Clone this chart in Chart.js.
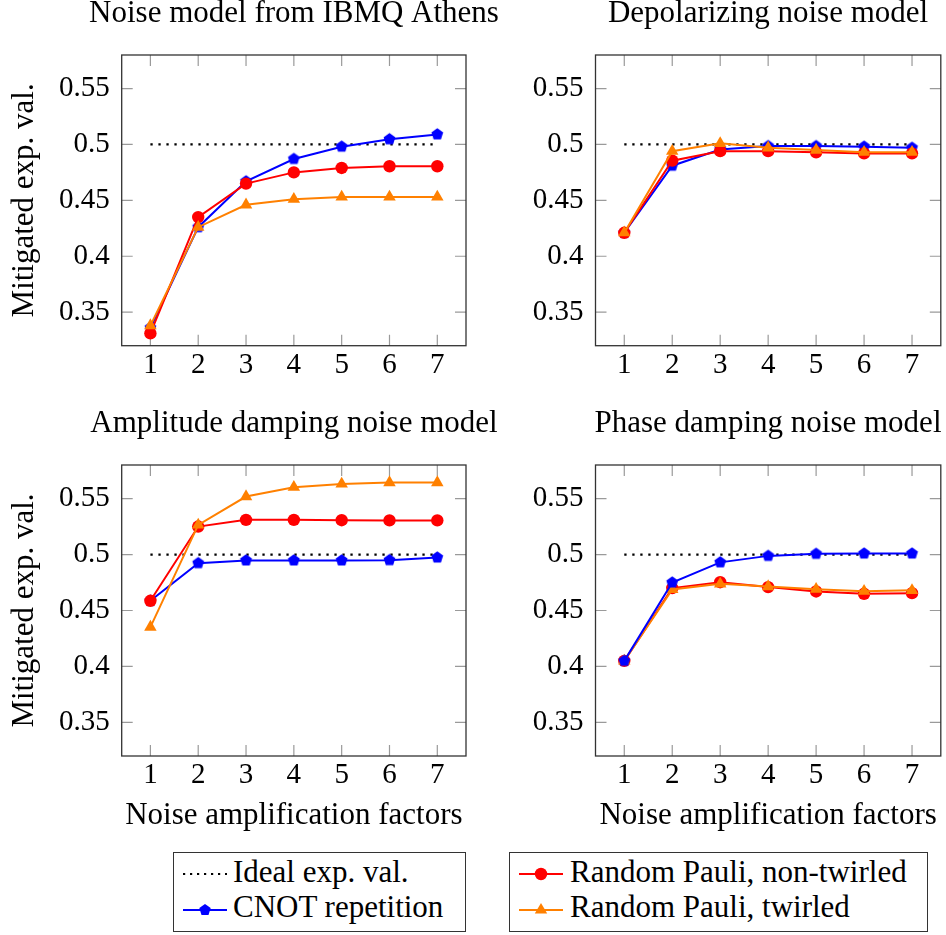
<!DOCTYPE html>
<html>
<head>
<meta charset="utf-8">
<script src="https://cdn.jsdelivr.net/npm/chart.js@4.4.1/dist/chart.umd.min.js"></script>
<style>
  html, body { margin: 0; padding: 0; background: #fff; }
  #page { position: relative; width: 946px; height: 935px; overflow: hidden; background: #fff; }
  #page canvas { position: absolute; }
  .legend-box { position: absolute; box-sizing: border-box; border: 1.3px solid #333; background: #fff; }
  .legend-text { position: absolute; font-family: "Liberation Serif", "Times New Roman", serif; font-size: 31px; line-height: 36px; color: #000; white-space: nowrap; }
  .legend-icon { position: absolute; }
</style>
</head>
<body>
<div id="page">
  <canvas id="athensChart" width="588" height="400" style="left:0;top:0"></canvas>
  <canvas id="depolChart" width="576" height="400" style="left:480px;top:0"></canvas>
  <canvas id="ampChart" width="588" height="430" style="left:0;top:410px"></canvas>
  <canvas id="phaseChart" width="576" height="430" style="left:480px;top:410px"></canvas>

  <div class="legend-box" style="left:173px;top:852px;width:293px;height:80px">
    <svg class="legend-icon" style="left:8px;top:13px" width="46" height="16">
      <line x1="1" y1="8" x2="45" y2="8" stroke="#000" stroke-width="2.2" stroke-dasharray="2.2 4.8"/>
    </svg>
    <span class="legend-text" style="left:59px;top:1px">Ideal exp. val.</span>
    <svg class="legend-icon" style="left:8px;top:49px" width="46" height="16">
      <line x1="1" y1="8" x2="45" y2="8" stroke="#0000ff" stroke-width="2"/>
      <polygon points="23,2 28.7,6.1 26.5,12.9 19.5,12.9 17.3,6.1" fill="#0000ff"/>
    </svg>
    <span class="legend-text" style="left:59px;top:36px">CNOT repetition</span>
  </div>

  <div class="legend-box" style="left:509px;top:852px;width:419px;height:80px">
    <svg class="legend-icon" style="left:8px;top:13px" width="46" height="16">
      <line x1="1" y1="8" x2="45" y2="8" stroke="#ff0000" stroke-width="2"/>
      <circle cx="23" cy="8" r="6.2" fill="#ff0000"/>
    </svg>
    <span class="legend-text" style="left:60px;top:1px">Random Pauli, non-twirled</span>
    <svg class="legend-icon" style="left:8px;top:49px" width="46" height="16">
      <line x1="1" y1="8" x2="45" y2="8" stroke="#ff8000" stroke-width="2"/>
      <polygon points="23,1 29.2,11.6 16.8,11.6" fill="#ff8000"/>
    </svg>
    <span class="legend-text" style="left:60px;top:36px">Random Pauli, twirled</span>
  </div>
</div>

<script>
const SERIF = '"Liberation Serif", "Times New Roman", serif';
const TICK_LEN = 11;

const factors = [1, 2, 3, 4, 5, 6, 7];
const yTicks = [0.35, 0.4, 0.45, 0.5, 0.55];
const idealX = [1, 7];
const idealY = [0.5, 0.5];

const athensCnot = [0.336, 0.426, 0.467, 0.487, 0.498, 0.5046, 0.509];
const athensPauli = [0.331, 0.435, 0.465, 0.475, 0.479, 0.4805, 0.4805];
const athensTwirled = [0.338, 0.426, 0.446, 0.451, 0.453, 0.453, 0.453];

const depolCnot = [0.421, 0.481, 0.4955, 0.4985, 0.4985, 0.498, 0.497];
const depolPauli = [0.421, 0.4855, 0.494, 0.494, 0.493, 0.492, 0.492];
const depolTwirled = [0.421, 0.494, 0.501, 0.497, 0.495, 0.493, 0.493];

const ampCnot = [0.4587, 0.4923, 0.4947, 0.4947, 0.4947, 0.495, 0.4973];
const ampPauli = [0.4587, 0.525, 0.531, 0.531, 0.5307, 0.5305, 0.5305];
const ampTwirled = [0.4352, 0.5265, 0.5518, 0.5602, 0.5631, 0.5643, 0.5643];

const phaseCnot = [0.405, 0.475, 0.493, 0.4988, 0.5006, 0.5009, 0.5009];
const phasePauli = [0.405, 0.47, 0.4753, 0.4709, 0.467, 0.4649, 0.4655];
const phaseTwirled = [0.405, 0.4688, 0.4738, 0.4714, 0.469, 0.4673, 0.468];

const BLUE = '#0000ff';
const RED = '#ff0000';
const ORANGE = '#ff8000';

function makePentagon(radius, color) {
  const size = Math.ceil(radius * 2) + 2;
  const c = document.createElement('canvas');
  c.width = size;
  c.height = size;
  const ctx = c.getContext('2d');
  ctx.fillStyle = color;
  ctx.beginPath();
  for (let k = 0; k < 5; k++) {
    const a = -Math.PI / 2 + k * 2 * Math.PI / 5;
    const px = size / 2 + radius * Math.cos(a);
    const py = size / 2 + radius * Math.sin(a);
    if (k === 0) ctx.moveTo(px, py); else ctx.lineTo(px, py);
  }
  ctx.closePath();
  ctx.fill();
  return c;
}

const pentagon = makePentagon(6.2, BLUE);

// box round the plot and the short inward ticks on all four sides
const framePlugin = {
  id: 'frame',
  beforeDatasetsDraw(chart) {
    const { ctx, chartArea: a, scales: { x, y } } = chart;
    ctx.save();
    ctx.strokeStyle = '#9a9a9a';
    ctx.lineWidth = 1.2;
    ctx.beginPath();
    factors.forEach((v) => {
      const px = x.getPixelForValue(v);
      ctx.moveTo(px, a.bottom);
      ctx.lineTo(px, a.bottom - TICK_LEN);
      ctx.moveTo(px, a.top);
      ctx.lineTo(px, a.top + TICK_LEN);
    });
    yTicks.forEach((v) => {
      const py = y.getPixelForValue(v);
      ctx.moveTo(a.left, py);
      ctx.lineTo(a.left + TICK_LEN, py);
      ctx.moveTo(a.right, py);
      ctx.lineTo(a.right - TICK_LEN, py);
    });
    ctx.stroke();
    ctx.strokeStyle = '#333';
    ctx.lineWidth = 1.3;
    ctx.strokeRect(a.left, a.top, a.right - a.left, a.bottom - a.top);
    ctx.restore();
  },
};

function toPoints(xs, ys) {
  return xs.map((v, i) => ({ x: v, y: ys[i] }));
}

function seriesDataset(label, values, color, pointStyle, radius, order) {
  return {
    label,
    data: toPoints(factors, values),
    borderColor: color,
    backgroundColor: color,
    borderWidth: 2,
    pointStyle,
    pointRadius: radius,
    pointBackgroundColor: color,
    pointBorderColor: color,
    pointBorderWidth: 0,
    tension: 0,
    order,
  };
}

function createChart(canvas, title, cnot, pauli, twirled, layout) {
  const cnotOrder = layout.cnotOnTop ? 0 : 3;
  return new Chart(canvas, {
    type: 'line',
    data: {
      datasets: [
        {
          label: 'Ideal exp. val.',
          data: toPoints(idealX, idealY),
          borderColor: '#000',
          borderWidth: 2.3,
          borderDash: [2.3, 5.7],
          pointRadius: 0,
          order: 10,
        },
        seriesDataset('CNOT repetition', cnot, BLUE, pentagon, 6.2, cnotOrder),
        seriesDataset('Random Pauli, non-twirled', pauli, RED, 'circle', 6.2, 2),
        seriesDataset('Random Pauli, twirled', twirled, ORANGE, 'triangle', 7.2, 1),
      ],
    },
    options: {
      responsive: false,
      animation: false,
      devicePixelRatio: 1,
      events: [],
      layout: { padding: 0 },
      plugins: {
        legend: { display: false },
        tooltip: { enabled: false },
        title: {
          display: true,
          text: title,
          color: '#000',
          font: { family: SERIF, size: 31, weight: 'normal', lineHeight: 0.871 },
          padding: { top: 0, bottom: 28 },
        },
      },
      scales: {
        x: {
          type: 'linear',
          min: 0.4,
          max: 7.6,
          afterBuildTicks: (scale) => {
            scale.ticks = factors.map((v) => ({ value: v }));
          },
          afterFit: (scale) => {
            scale.height = layout.xHeight;
          },
          grid: { display: false, drawTicks: false },
          border: { display: false },
          ticks: {
            color: '#000',
            font: { family: SERIF, size: 29 },
            padding: 2,
            autoSkip: false,
            maxRotation: 0,
            callback: (v) => String(v),
          },
          title: {
            display: layout.xTitle,
            text: 'Noise amplification factors',
            color: '#000',
            font: { family: SERIF, size: 31 },
            padding: { top: 0, bottom: 6 },
          },
        },
        y: {
          type: 'linear',
          min: 0.32,
          max: 0.58,
          afterBuildTicks: (scale) => {
            scale.ticks = yTicks.map((v) => ({ value: v }));
          },
          afterFit: (scale) => {
            scale.width = layout.yWidth;
          },
          grid: { display: false, drawTicks: false },
          border: { display: false },
          ticks: {
            color: '#000',
            font: { family: SERIF, size: 29 },
            padding: 12,
            callback: (v) => String(v),
          },
          title: {
            display: layout.yTitle,
            text: 'Mitigated exp. val.',
            color: '#000',
            font: { family: SERIF, size: 31 },
            padding: { top: 6, bottom: 0 },
          },
        },
        // empty right-hand strip, so the full-width title centres over the plot
        spacer: {
          type: 'linear',
          position: 'right',
          min: 0,
          max: 1,
          afterFit: (scale) => {
            scale.width = layout.spacer;
          },
          grid: { display: false, drawTicks: false },
          border: { display: false },
          ticks: { display: false },
        },
      },
    },
    plugins: [framePlugin],
  });
}

const leftTop = { spacer: 122, yWidth: 121.7, xHeight: 54.3, xTitle: false, yTitle: true };
const rightTop = { spacer: 115.2, yWidth: 115.5, xHeight: 54.3, xTitle: false, yTitle: false };
const leftBottom = { spacer: 122, yWidth: 121.7, xHeight: 84, xTitle: true, yTitle: true };
const rightBottom = { spacer: 115.2, yWidth: 115.5, xHeight: 84, xTitle: true, yTitle: false, cnotOnTop: true };

createChart(document.getElementById('athensChart'), 'Noise model from IBMQ Athens',
  athensCnot, athensPauli, athensTwirled, leftTop);
createChart(document.getElementById('depolChart'), 'Depolarizing noise model',
  depolCnot, depolPauli, depolTwirled, rightTop);
createChart(document.getElementById('ampChart'), 'Amplitude damping noise model',
  ampCnot, ampPauli, ampTwirled, leftBottom);
createChart(document.getElementById('phaseChart'), 'Phase damping noise model',
  phaseCnot, phasePauli, phaseTwirled, rightBottom);
</script>
</body>
</html>
